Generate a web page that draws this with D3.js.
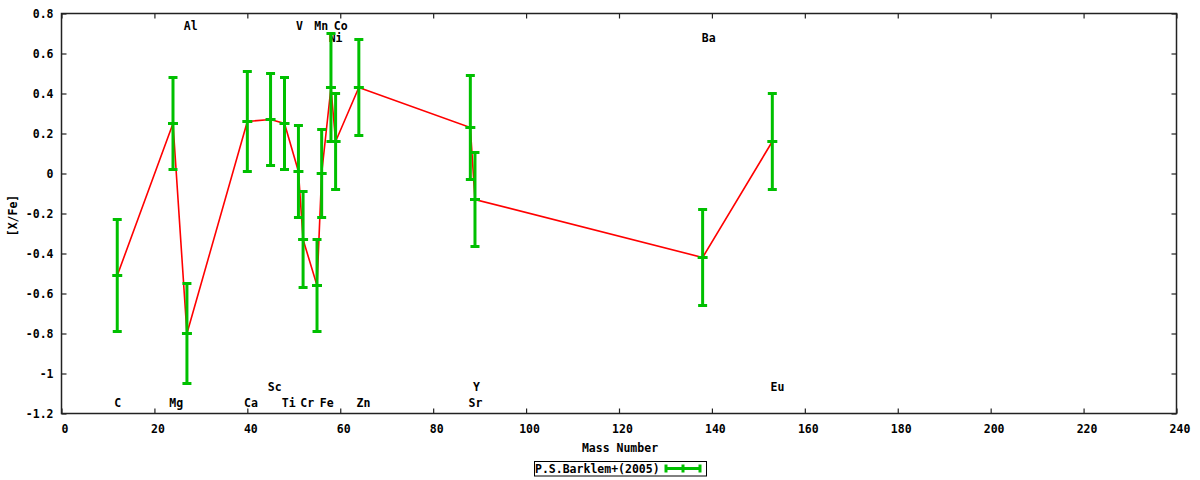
<!DOCTYPE html>
<html>
<head>
<meta charset="utf-8">
<script src="https://cdn.jsdelivr.net/npm/d3@7"></script>
<style>
  html, body { margin: 0; padding: 0; background: #fff; }
  svg text { font-family: "DejaVu Sans Mono", "Liberation Mono", monospace; font-weight: bold; font-size: 11.5px; fill: #000; }
</style>
</head>
<body>
<svg id="chart" width="1200" height="480"></svg>
<script>
// ---- data ----
const massNumbers = [12, 24, 27, 40, 45, 48, 51, 52, 55, 56, 58, 59, 64, 88, 89, 138, 153];
const elements    = ["C","Mg","Al","Ca","Sc","Ti","V","Cr","Mn","Fe","Ni","Co","Zn","Sr","Y","Ba","Eu"];
const values      = [-0.51, 0.25, -0.80, 0.26, 0.27, 0.25, 0.01, -0.33, -0.56, 0.00, 0.43, 0.16, 0.43, 0.23, -0.13, -0.42, 0.16];
const errors      = [0.28, 0.23, 0.25, 0.25, 0.23, 0.23, 0.23, 0.24, 0.23, 0.22, 0.27, 0.24, 0.24, 0.26, 0.235, 0.24, 0.24];

const labelNames  = ["C","Mg","Al","Ca","Sc","Ti","V","Cr","Mn","Fe","Co","Ni","Zn","Y","Sr","Ba","Eu"];
const labelX      = [12.1, 24.7, 27.8, 40.8, 45.9, 48.9, 51.2, 52.9, 55.9, 57.1, 60.1, 59.0, 65.0, 89.3, 89.1, 139.3, 154.1];
const labelY      = [-1.168, -1.168, 0.717, -1.168, -1.088, -1.168, 0.717, -1.168, 0.717, -1.168, 0.717, 0.657, -1.168, -1.088, -1.168, 0.657, -1.088];

const xTicks = [0, 20, 40, 60, 80, 100, 120, 140, 160, 180, 200, 220, 240];
const yTicks = [0.8, 0.6, 0.4, 0.2, 0, -0.2, -0.4, -0.6, -0.8, -1, -1.2];
const xTitle = "Mass Number";
const yTitle = "[X/Fe]";
const seriesName = "P.S.Barklem+(2005)";

// ---- layout ----
const svg = d3.select("#chart");
const L = 61.5, R = 1176.5, T = 13.5, B = 413.5;
const x = d3.scaleLinear().domain([0, 240]).range([L, R]);
const y = d3.scaleLinear().domain([-1.2, 0.8]).range([B, T]);
const green = "#00c000";
const fmt = v => { const s = d3.format("")(+v.toFixed(1)); return s.replace("\u2212", "-"); };

// ticks (inward on all sides)
const tickLen = 5;
const gx = svg.append("g").attr("transform", `translate(0,${B})`)
  .call(d3.axisBottom(x).tickValues(xTicks).tickSizeInner(-tickLen).tickSizeOuter(0).tickPadding(11).tickFormat(d => String(d)));
gx.select(".domain").remove();
gx.selectAll("text").attr("dx", 3);
const gxt = svg.append("g").attr("transform", `translate(0,${T})`)
  .call(d3.axisTop(x).tickValues(xTicks).tickSizeInner(-tickLen).tickSizeOuter(0).tickFormat(""));
gxt.select(".domain").remove();
const gy = svg.append("g").attr("transform", `translate(${L},0)`)
  .call(d3.axisLeft(y).tickValues(yTicks).tickSizeInner(-tickLen).tickSizeOuter(0).tickPadding(8).tickFormat(fmt));
gy.select(".domain").remove();
const gyr = svg.append("g").attr("transform", `translate(${R},0)`)
  .call(d3.axisRight(y).tickValues(yTicks).tickSizeInner(-tickLen).tickSizeOuter(0).tickFormat(""));
gyr.select(".domain").remove();
svg.selectAll(".tick line").attr("stroke", "#222").attr("stroke-width", 1.2);
svg.selectAll(".tick text").style("font-family", null).style("font-size", null).attr("font-family", null).attr("font-size", null);

// frame
svg.append("rect").attr("x", L).attr("y", T).attr("width", R - L).attr("height", B - T)
  .attr("fill", "none").attr("stroke", "#222").attr("stroke-width", 1.5);

// axis titles
svg.append("text").attr("x", (L + R) / 2 + 1).attr("y", 452).attr("text-anchor", "middle").text(xTitle);
svg.append("text").attr("transform", `translate(17,${(T + B) / 2 + 2}) rotate(-90)`).attr("text-anchor", "middle").text(yTitle);

// element labels
svg.append("g").selectAll("text").data(labelNames).join("text")
  .attr("x", (d, i) => x(labelX[i])).attr("y", (d, i) => y(labelY[i]))
  .attr("text-anchor", "middle").text(d => d);

// connecting red line
const pts = massNumbers.map((m, i) => [m, values[i]]);
svg.append("path").datum(pts)
  .attr("d", d3.line().x(d => x(d[0])).y(d => y(d[1])))
  .attr("fill", "none").attr("stroke", "#ff0000").attr("stroke-width", 1.6);

// error bars
const eb = svg.append("g").attr("stroke", green).attr("stroke-width", 3);
const capW = 4.5;
massNumbers.forEach((m, i) => {
  const cx = x(m), v = values[i], e = errors[i];
  eb.append("line").attr("x1", cx).attr("x2", cx).attr("y1", y(v + e)).attr("y2", y(v - e));
  eb.append("line").attr("x1", cx - capW).attr("x2", cx + capW).attr("y1", y(v + e)).attr("y2", y(v + e));
  eb.append("line").attr("x1", cx - capW).attr("x2", cx + capW).attr("y1", y(v - e)).attr("y2", y(v - e));
  eb.append("line").attr("x1", cx - 5).attr("x2", cx + 5).attr("y1", y(v)).attr("y2", y(v));
});

// legend
const lg = svg.append("g");
lg.append("rect").attr("x", 534.5).attr("y", 461.5).attr("width", 172).attr("height", 14.5)
  .attr("fill", "#fff").attr("stroke", "#000").attr("stroke-width", 1);
lg.append("text").attr("x", 535).attr("y", 473).text(seriesName);
const ly = 468.5;
const ls = lg.append("g").attr("stroke", green).attr("stroke-width", 3);
ls.append("line").attr("x1", 666).attr("x2", 700).attr("y1", ly).attr("y2", ly);
[666, 683, 700].forEach(px => ls.append("line").attr("x1", px).attr("x2", px).attr("y1", ly - 4).attr("y2", ly + 4));
</script>
</body>
</html>
